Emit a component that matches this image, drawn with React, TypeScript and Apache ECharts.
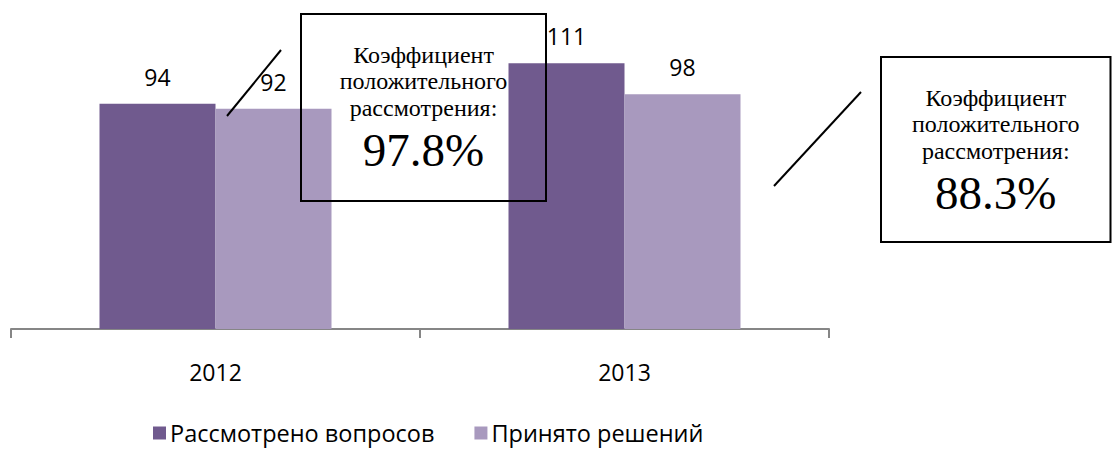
import React, { useEffect, useRef } from "react";
import * as echarts from "echarts";

const categories = ["2012", "2013"];
const seriesNames = ["Рассмотрено вопросов", "Принято решений"];
const considered = [94, 111];
const accepted = [92, 98];
const coefTitle = ["Коэффициент", "положительного", "рассмотрения:"];
const coefValues = ["97.8%", "88.3%"];

const DARK = "#705A8E";
const LIGHT = "#A899BE";
const SANS = "'Open Sans', 'Noto Sans', sans-serif";
const SERIF = "'Liberation Serif', 'Times New Roman', Tinos, 'DejaVu Serif', 'Noto Serif', serif";

function boxTitles(left: number, top: number, width: number, value: string) {
  const cx = left + width / 2;
  const offs = [41, 67, 94];
  const titles: any[] = coefTitle.map((t, i) => ({
    text: t,
    left: cx,
    top: top + offs[i] - 14,
    textAlign: "center",
    padding: 0,
    textStyle: {
      fontFamily: SERIF,
      fontSize: 24,
      lineHeight: 28,
      fontWeight: "normal",
      color: "#000",
    },
  }));
  titles.push({
    text: value,
    left: cx,
    top: top + 136 - 27,
    textAlign: "center",
    padding: 0,
    textStyle: {
      fontFamily: SERIF,
      fontSize: 47,
      lineHeight: 54,
      fontWeight: "normal",
      color: "#000",
    },
  });
  return titles;
}

export default function App() {
  const ref = useRef<HTMLDivElement>(null);
  useEffect(() => {
    document.body.style.margin = "0";
    if (!ref.current) return;
    const chart = echarts.init(ref.current, null, { renderer: "svg" });
    const labelStyle = {
      show: true,
      position: "top" as const,
      distance: 15,
      color: "#000",
      fontFamily: SANS,
      fontSize: 23,
      lineHeight: 24,
    };
    chart.setOption({
      animation: false,
      title: [
        ...boxTitles(301, 14, 245, coefValues[0]),
        ...boxTitles(881, 57, 229.5, coefValues[1]),
      ],
      grid: { left: 11, right: 283, top: 41.6, bottom: 121, containLabel: false },
      legend: {
        left: 153,
        top: 421,
        padding: 0,
        itemWidth: 13,
        itemHeight: 13,
        itemGap: 40,
        icon: "rect",
        textStyle: { fontFamily: SANS, fontSize: 23.5, lineHeight: 24, color: "#000", padding: [0, 0, 0, -1] },
        data: seriesNames,
      },
      xAxis: {
        type: "category",
        data: categories,
        axisLine: { lineStyle: { color: "#868686", width: 2 } },
        axisTick: { show: true, length: 9, lineStyle: { color: "#868686", width: 2 } },
        axisLabel: { margin: 31, fontFamily: SANS, fontSize: 23, color: "#000" },
      },
      yAxis: {
        type: "value",
        min: 0,
        max: 120,
        show: false,
        splitLine: { show: false },
      },
      series: [
        {
          name: seriesNames[0],
          type: "bar",
          data: considered,
          barWidth: 116,
          barGap: "0%",
          itemStyle: { color: DARK },
          label: labelStyle,
        },
        {
          name: seriesNames[1],
          type: "bar",
          data: accepted,
          barWidth: 116,
          barGap: "0%",
          itemStyle: { color: LIGHT },
          label: labelStyle,
        },
      ],
      graphic: [
        {
          type: "rect",
          z: 100,
          shape: { x: 301, y: 14, width: 245, height: 187 },
          style: { fill: "rgba(0,0,0,0)", stroke: "#000", lineWidth: 2 },
        },
        {
          type: "rect",
          z: 100,
          shape: { x: 881, y: 57, width: 229.5, height: 185 },
          style: { fill: "rgba(0,0,0,0)", stroke: "#000", lineWidth: 2 },
        },
        {
          type: "line",
          z: 100,
          shape: { x1: 227, y1: 116, x2: 281, y2: 50 },
          style: { stroke: "#000", lineWidth: 2 },
        },
        {
          type: "line",
          z: 100,
          shape: { x1: 774, y1: 186, x2: 861, y2: 92 },
          style: { stroke: "#000", lineWidth: 2 },
        },
      ],
    });
    return () => chart.dispose();
  }, []);
  return (
    <div
      ref={ref}
      style={{ position: "absolute", left: 0, top: 0, width: 1112, height: 450 }}
    />
  );
}
